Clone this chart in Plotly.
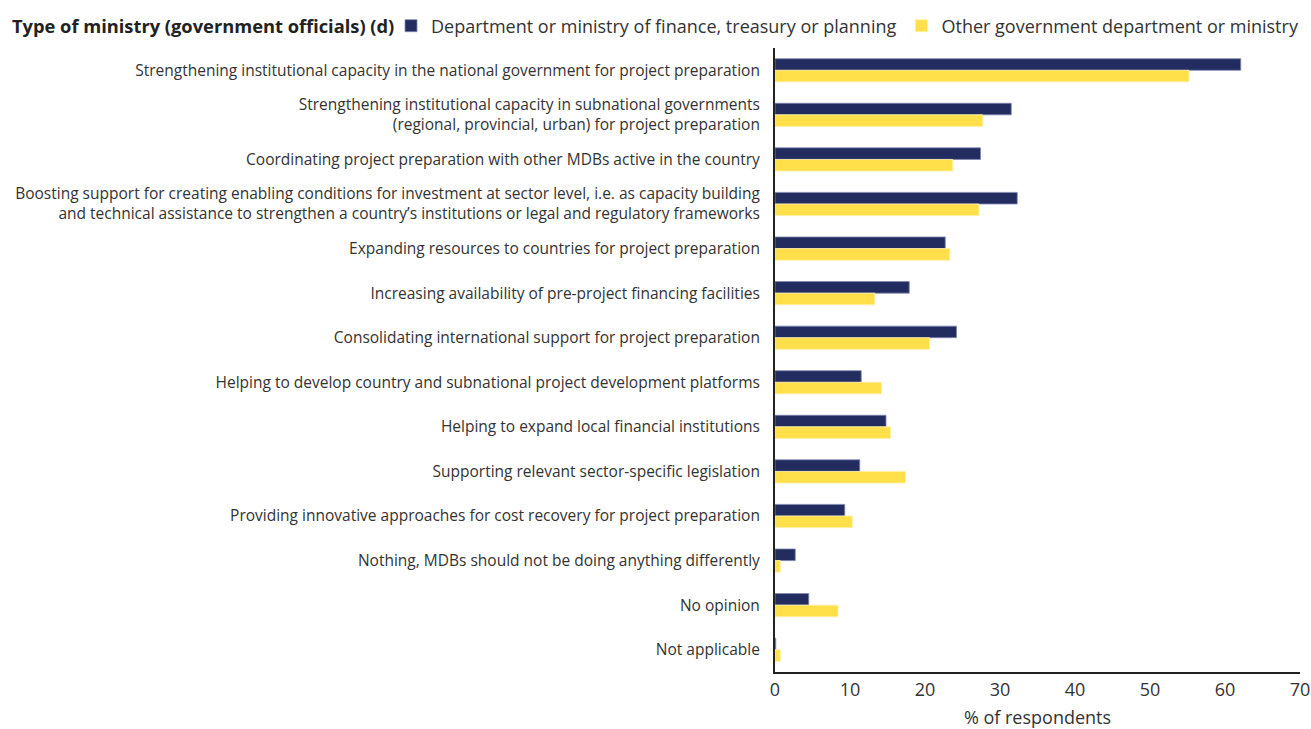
import plotly.graph_objects as go

categories = [
    "Strengthening institutional capacity in the national government for project preparation",
    "Strengthening institutional capacity in subnational governments<br>(regional, provincial, urban) for project preparation",
    "Coordinating project preparation with other MDBs active in the country",
    "Boosting support for creating enabling conditions for investment at sector level, i.e. as capacity building<br>and technical assistance to strengthen a country\u2019s institutions or legal and regulatory frameworks",
    "Expanding resources to countries for project preparation",
    "Increasing availability of pre-project financing facilities",
    "Consolidating international support for project preparation",
    "Helping to develop country and subnational project development platforms",
    "Helping to expand local financial institutions",
    "Supporting relevant sector-specific legislation",
    "Providing innovative approaches for cost recovery for project preparation",
    "Nothing, MDBs should not be doing anything differently",
    "No opinion",
    "Not applicable",
]
finance_values = [62.1, 31.5, 27.4, 32.3, 22.7, 17.9, 24.2, 11.5, 14.8, 11.3, 9.3, 2.7, 4.5, 0.1]
other_values = [55.2, 27.7, 23.7, 27.2, 23.3, 13.3, 20.6, 14.2, 15.4, 17.4, 10.3, 0.7, 8.4, 0.7]
series_names = [
    "Department or ministry of finance, treasury or planning",
    "Other government department or ministry",
]
x_ticks = [0, 10, 20, 30, 40, 50, 60, 70]

FONT = "Open Sans"
NAVY = "#222C5F"
YELLOW = "#FFE04B"

W, H = 1311, 729
ML, MR, MT, MB = 775, 11, 48, 57
PW = W - ML - MR
PH = H - MT - MB


def px_x(px):
    return (px - ML) / PW


def px_y(py):
    return 1 + (MT - py) / PH


fig = go.Figure()
fig.add_trace(go.Bar(
    y=categories, x=finance_values, orientation="h", name=series_names[0],
    marker=dict(color=NAVY, line=dict(color="#8088B3", width=0.8)),
))
fig.add_trace(go.Bar(
    y=categories, x=other_values, orientation="h", name=series_names[1],
    marker=dict(color=YELLOW, line=dict(color="#FFF0A6", width=0.8)),
))

fig.update_layout(
    width=W, height=H,
    margin=dict(l=ML, r=MR, t=MT, b=MB, autoexpand=False),
    plot_bgcolor="white", paper_bgcolor="white",
    barmode="group", bargap=0.48, bargroupgap=0,
    font=dict(family=FONT, size=15.5, color="#333333"),
    showlegend=True,
    legend=dict(
        orientation="h", x=px_x(391), xanchor="left", y=px_y(26), yanchor="middle",
        font=dict(family=FONT, size=18, color="#333333"),
        traceorder="normal", itemclick=False, itemdoubleclick=False,
        bgcolor="rgba(0,0,0,0)",
    ),
    annotations=[dict(
        text="<b>Type of ministry (government officials) (d)</b>",
        x=px_x(10), y=px_y(26), xref="paper", yref="paper", showarrow=False,
        xanchor="left", yanchor="middle",
        font=dict(family=FONT, size=18.3, color="#222222"),
    )],
)

fig.update_xaxes(
    range=[0, 70], tickvals=x_ticks, ticktext=[str(t) for t in x_ticks],
    showgrid=False, zeroline=False, showline=True, linecolor="#222222", linewidth=2,
    ticks="", tickfont=dict(family=FONT, size=18, color="#333333"),
    title=dict(text="% of respondents", font=dict(family=FONT, size=18, color="#333333"), standoff=18),
    automargin=False, fixedrange=True,
)
fig.update_yaxes(
    autorange="reversed", showgrid=False, zeroline=False,
    showline=True, linecolor="#222222", linewidth=2, ticks="",
    ticklabelstandoff=10,
    tickfont=dict(family=FONT, size=15.5, color="#333333"),
    automargin=False, fixedrange=True,
)

fig.write_html(
    "out.html",
    config={"displayModeBar": False},
    post_script="document.body.style.margin='0';document.body.style.overflow='hidden';",
)
